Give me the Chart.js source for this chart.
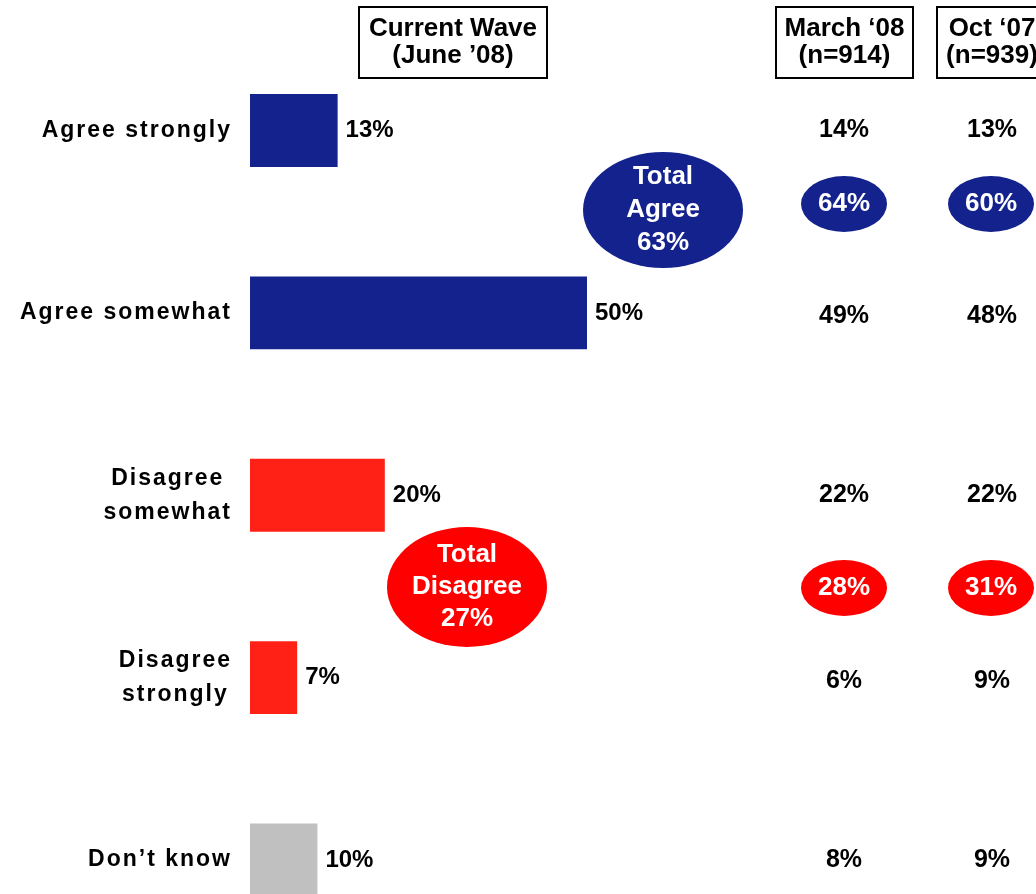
<!doctype html>
<html lang="en">
<head>
<meta charset="utf-8">
<title>Agreement by wave</title>
<script src="https://cdn.jsdelivr.net/npm/chart.js"></script>
<style>
  html, body { margin: 0; padding: 0; background: #fff; overflow: hidden; }
  canvas { display: block; }
</style>
</head>
<body>
<canvas id="waveChart" width="1036" height="894"></canvas>
<script>
  const categories = [
    ['Agree strongly'],
    ['Agree somewhat'],
    ['Disagree', 'somewhat'],
    ['Disagree', 'strongly'],
    ['Don’t know']
  ];
  const currentWave = [13, 50, 20, 7, 10];
  const march08 = [14, 49, 22, 6, 8];
  const oct07 = [13, 48, 22, 9, 9];

  // totals: current wave, March '08, Oct '07
  const totalAgree = [63, 64, 60];
  const totalDisagree = [27, 28, 31];

  const headers = [
    ['Current Wave', '(June ’08)'],
    ['March ‘08', '(n=914)'],
    ['Oct ‘07', '(n=939)']
  ];

  const BLUE = '#13228c';
  const RED_BAR = '#ff2016';
  const RED = '#ff0000';
  const GREY = '#c0c0c0';
  const barColors = [BLUE, BLUE, RED_BAR, RED_BAR, GREY];
  const FONT = '"Liberation Sans", Arial, sans-serif';

  function label(ctx, text, x, y, size, color, align, spacing) {
    ctx.save();
    ctx.font = 'bold ' + size + 'px ' + FONT;
    ctx.fillStyle = color;
    ctx.textAlign = align;
    ctx.textBaseline = 'middle';
    ctx.letterSpacing = (spacing || 0) + 'px';
    ctx.fillText(text, x, y);
    ctx.restore();
  }

  function bubble(ctx, cx, cy, rx, ry, color, lines, gap) {
    ctx.save();
    ctx.fillStyle = color;
    ctx.beginPath();
    ctx.ellipse(cx, cy, rx, ry, 0, 0, Math.PI * 2);
    ctx.fill();
    ctx.restore();
    const top = cy - (lines.length - 1) * gap / 2;
    lines.forEach((t, i) => label(ctx, t, cx, top + i * gap, 26, '#fff', 'center'));
  }

  const extras = {
    id: 'extras',
    afterDraw(chart) {
      const ctx = chart.ctx;
      const x = chart.scales.x;
      const y = chart.scales.y;

      // header boxes
      const boxes = [[359, 188], [776, 137], [937, 110]];
      boxes.forEach(([bx, bw], i) => {
        ctx.save();
        ctx.strokeStyle = '#000';
        ctx.lineWidth = 2;
        ctx.strokeRect(bx, 7, bw, 71);
        ctx.restore();
        const cx = i === 2 ? 992 : bx + bw / 2;
        label(ctx, headers[i][0], cx, 29, 26, '#000', 'center');
        label(ctx, headers[i][1], cx, 56, 26, '#000', 'center');
      });

      // category labels, right aligned block with centred lines
      ctx.save();
      ctx.font = 'bold 23px ' + FONT;
      ctx.letterSpacing = '2px';
      categories.forEach((lines, i) => {
        const cy = y.getPixelForValue(i);
        const w = Math.max(...lines.map(t => ctx.measureText(t).width));
        const cx = 232 - w / 2;
        const top = cy - (lines.length - 1) * 17;
        lines.forEach((t, j) => label(ctx, t, cx, top + j * 34, 23, '#000', 'center', 2));
      });
      ctx.restore();

      // bar values and earlier waves
      currentWave.forEach((v, i) => {
        const cy = y.getPixelForValue(i);
        const shift = (i === 1 || i === 3) ? 3 : 0;
        label(ctx, v + '%', x.getPixelForValue(v) + 8, cy, 24, '#000', 'left');
        label(ctx, march08[i] + '%', 844, cy + shift, 25, '#000', 'center');
        label(ctx, oct07[i] + '%', 992, cy + shift, 25, '#000', 'center');
      });

      // net totals
      bubble(ctx, 663, 210, 80, 58, BLUE, ['Total', 'Agree', totalAgree[0] + '%'], 33);
      bubble(ctx, 844, 204, 43, 28, BLUE, [totalAgree[1] + '%'], 0);
      bubble(ctx, 991, 204, 43, 28, BLUE, [totalAgree[2] + '%'], 0);
      bubble(ctx, 467, 587, 80, 60, RED, ['Total', 'Disagree', totalDisagree[0] + '%'], 32);
      bubble(ctx, 844, 588, 43, 28, RED, [totalDisagree[1] + '%'], 0);
      bubble(ctx, 991, 588, 43, 28, RED, [totalDisagree[2] + '%'], 0);
    }
  };

  new Chart(document.getElementById('waveChart'), {
    type: 'bar',
    data: {
      labels: categories,
      datasets: [{
        data: currentWave,
        backgroundColor: barColors,
        borderWidth: 0,
        barPercentage: 0.5,
        categoryPercentage: 0.8,
        clip: false
      }]
    },
    options: {
      indexAxis: 'y',
      responsive: false,
      animation: false,
      layout: { padding: { left: 250, right: 112, top: 130.5, bottom: 34 } },
      scales: {
        x: { display: false, min: 0, max: 100 },
        y: { display: false, offset: false }
      },
      plugins: {
        legend: { display: false },
        tooltip: { enabled: false }
      }
    },
    plugins: [extras]
  });
</script>
</body>
</html>
